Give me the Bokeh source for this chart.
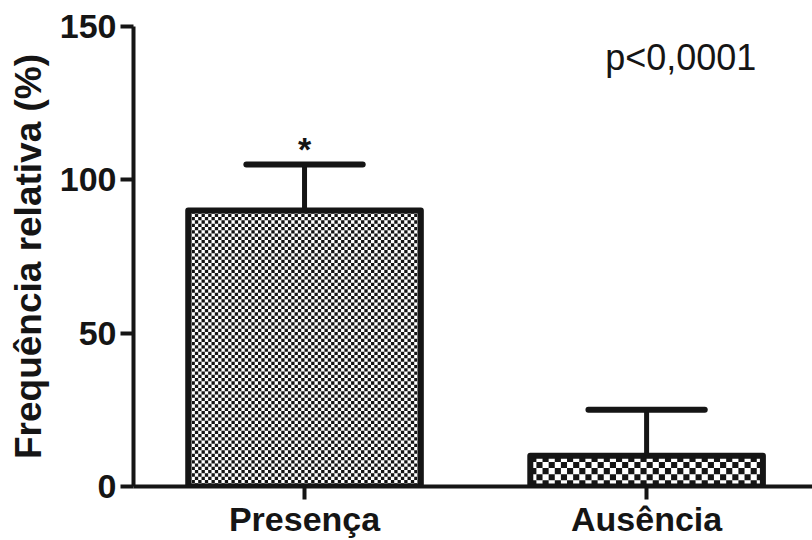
import numpy as np
from bokeh.plotting import figure
from bokeh.models import Range1d, FixedTicker, Label
from bokeh.embed import file_html
from bokeh.resources import INLINE
from bokeh.core.properties import value

# ---- data ----
categories = ["Presença", "Ausência"]
means = [90, 10]
errors = [15, 15]
y_ticks = [0, 50, 100, 150]
p_text = "p<0,0001"
star_text = "*"

INK = "#151515"
FONT = "Liberation Sans"

W, H = 812, 540
BL, BR, BT, BB = 133, 0, 26, 53
XEND = 1.985
YEND = 150

p = figure(width=W, height=H, output_backend="svg", toolbar_location=None,
           x_range=Range1d(0, XEND), y_range=Range1d(0, YEND),
           min_border_left=BL, min_border_right=BR, min_border_top=BT,
           min_border_bottom=BB)
p.outline_line_color = None
p.xgrid.visible = False
p.ygrid.visible = False
p.background_fill_color = "white"

xc = np.arange(len(categories)) + 0.5
bw = 0.68
cap = 0.34

# approximate pixel scales for checker pattern
fw = W - BL - BR
fh = H - BT - BB
ux = fw / XEND
uy = fh / YEND
cells = [3.3, 6.2]

for i in range(len(categories)):
    L = xc[i] - bw / 2
    R = xc[i] + bw / 2
    T = means[i]
    nx = max(1, int(round((R - L) * ux / cells[i])))
    ny = max(1, int(round(T * uy / cells[i])))
    dx = (R - L) / nx
    dy = T / ny
    ii, jj = np.meshgrid(np.arange(nx), np.arange(ny))
    mask = ((ii + jj) % 2) == 0
    lefts = L + ii[mask] * dx
    bottoms = jj[mask] * dy
    p.quad(left=lefts, right=lefts + dx, bottom=bottoms, top=bottoms + dy,
           fill_color=INK, line_color=None)

# bar outlines
p.quad(left=xc - bw / 2, right=xc + bw / 2, bottom=[0] * len(means), top=means,
       fill_color=None, line_color=INK, line_width=6, line_join="round")

# error bars
tops = [m + e for m, e in zip(means, errors)]
p.segment(x0=xc, x1=xc, y0=means, y1=tops, line_color=INK, line_width=5)
p.segment(x0=xc - cap / 2, x1=xc + cap / 2, y0=tops, y1=tops,
          line_color=INK, line_width=6, line_cap="round")

# significance star
p.text(x=[xc[0]], y=[tops[0]], text=[star_text], text_align="center",
       text_baseline="bottom", y_offset=3, text_font=value(FONT),
       text_font_size="34px", text_font_style="bold", text_color=INK)

p.add_layout(Label(x=1.60, y=140, text=p_text, text_align="center",
                   text_baseline="middle", text_font=FONT,
                   text_font_size="36px", text_color=INK))

# axes
for ax in (p.xaxis[0], p.yaxis[0]):
    ax.axis_line_width = 4
    ax.axis_line_color = INK
    ax.major_tick_line_width = 4
    ax.major_tick_line_color = INK
    ax.major_tick_out = 13
    ax.major_tick_in = 0
    ax.minor_tick_line_color = None
    ax.major_label_text_font = FONT
    ax.major_label_text_font_style = "bold"
    ax.major_label_text_color = INK

p.yaxis.ticker = FixedTicker(ticks=y_ticks)
p.yaxis.major_label_text_font_size = "34px"
p.yaxis.major_label_standoff = 4
p.yaxis.axis_label = "Frequência relativa (%)"
p.yaxis.axis_label_text_font = FONT
p.yaxis.axis_label_text_font_style = "bold"
p.yaxis.axis_label_text_font_size = "37px"
p.yaxis.axis_label_text_color = INK
p.yaxis.axis_label_standoff = 8

p.xaxis.ticker = FixedTicker(ticks=list(xc))
p.xaxis.major_label_overrides = {float(x): c for x, c in zip(xc, categories)}
p.xaxis.major_label_text_font_size = "34px"
p.xaxis.major_label_standoff = 0

open("out.html", "w").write(file_html(p, INLINE))
